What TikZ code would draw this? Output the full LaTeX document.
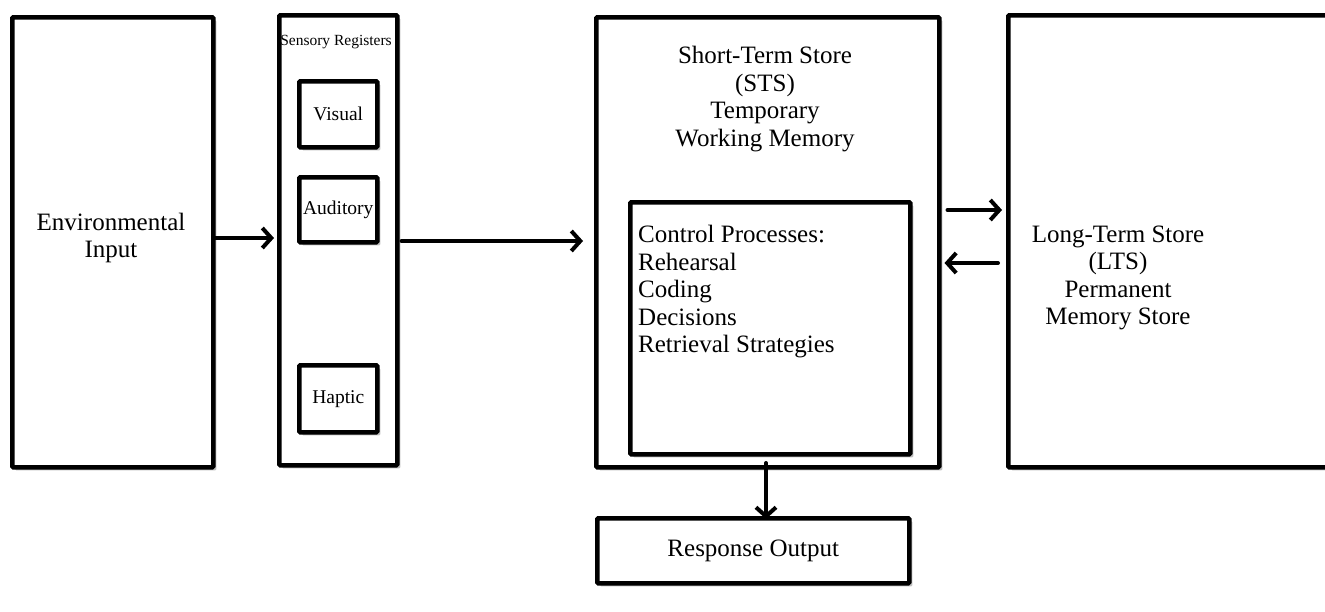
\documentclass[tikz,border=0pt]{standalone}
\usepackage{fontspec}
\setmainfont{Liberation Serif}
\usetikzlibrary{arrows.meta,shadows}
\begin{document}
\begin{tikzpicture}[x=1pt,y=-1pt,
  box/.style={draw=black,line width=4.5pt,fill=white,rounded corners=1pt,
    drop shadow={shadow xshift=3pt,shadow yshift=-3pt,opacity=0.25,fill=black}},
  lbl/.style={font=\fontsize{25}{27.5}\selectfont,align=center,inner sep=0pt},
  slbl/.style={font=\fontsize{19.5}{23}\selectfont,align=center,inner sep=0pt},
  arr/.style={line width=4pt,-{Straight Barb[length=9pt,width=20pt,line width=4pt]},line cap=round}]
\useasboundingbox (0,0) rectangle (1325,611);
\begin{scope}
\clip (0,0) rectangle (1325,611);
% boxes
\node[box,minimum width=201pt,minimum height=450pt,anchor=north west] (env) at (10,15) {};
\node[lbl] at (111,238) {Environmental\\Input};
\node[box,minimum width=118pt,minimum height=450pt,anchor=north west] (sens) at (277,13) {};
\node[slbl,font=\fontsize{15.5}{19}\selectfont] at (336,42) {Sensory Registers};
\node[box,minimum width=78pt,minimum height=66pt,anchor=north west] (vis) at (297,79) {};
\node[slbl] at (vis.center) {Visual};
\node[box,minimum width=78pt,minimum height=65pt,anchor=north west] (aud) at (297,175) {};
\node[slbl] at (aud.center) {Auditory};
\node[box,minimum width=78pt,minimum height=67pt,anchor=north west] (hap) at (297,363) {};
\node[slbl] at (hap.center) {Haptic};
\node[box,minimum width=343pt,minimum height=450pt,anchor=north west] (sts) at (594,15) {};
\node[lbl] at (765,99) {Short-Term Store\\(STS)\\Temporary\\Working Memory};
\node[box,minimum width=280pt,minimum height=252pt,anchor=north west] (ctrl) at (628,200) {};
\node[lbl,align=left,anchor=west] at (638,292) {Control Processes:\\Rehearsal\\Coding\\Decisions\\Retrieval Strategies};
\node[box,minimum width=340pt,minimum height=452pt,anchor=north west] (lts) at (1006,13) {};
\node[lbl] at (1118,278) {Long-Term Store\\(LTS)\\Permanent\\Memory Store};
\node[box,minimum width=312pt,minimum height=65pt,anchor=north west] (resp) at (595,516) {};
\node[lbl] at (resp.center) {Response Output};
\end{scope}
% arrows
\coordinate (a1s) at (env.east |- 0,238);
\coordinate (a1e) at (sens.west |- 0,238);
\draw[arr] (a1s) -- ([xshift=-3pt]a1e);
\coordinate (a2s) at (sens.east |- 0,241);
\coordinate (a2e) at (sts.west |- 0,241);
\draw[arr] ([xshift=2pt]a2s) -- ([xshift=-11pt]a2e);
\coordinate (a3s) at (sts.east |- 0,210);
\coordinate (a3e) at (lts.west |- 0,210);
\draw[arr] ([xshift=6pt]a3s) -- ([xshift=-4pt]a3e);
\coordinate (a4s) at (lts.west |- 0,263);
\coordinate (a4e) at (sts.east |- 0,263);
\draw[arr] ([xshift=-8pt]a4s) -- ([xshift=3pt]a4e);
\coordinate (a5s) at (766,465);
\coordinate (a5e) at (766,516);
\draw[arr] ([yshift=2pt]a5s) -- ([yshift=-3pt]a5e);
\end{tikzpicture}
\end{document}
